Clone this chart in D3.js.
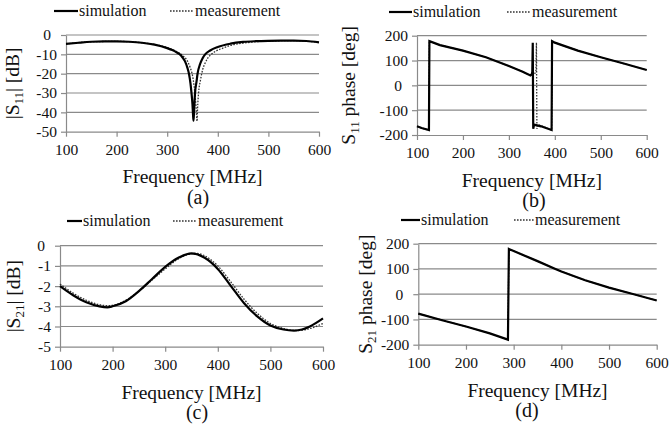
<!DOCTYPE html>
<html>
<head>
<meta charset="utf-8">
<script src="https://cdn.jsdelivr.net/npm/d3@7"></script>
<style>
  body { margin: 0; background: #fff; }
  svg { display: block; font-family: "Liberation Serif", "Times New Roman", serif; }
</style>
</head>
<body>
<svg id="chart" width="669" height="427"></svg>
<script>
// x values are shared: frequency in MHz
const xTicks = [100, 200, 300, 400, 500, 600];

// (a) |S11| [dB]
const s11MagSimF = [100,125,150,175,200,225,250,275,300,310,320,325,330,335,340,343,346,348,350,351,352,353,355,358,360,365,370,375,385,400,425,450,475,500,525,550,575,600];
const s11MagSim  = [-4.6,-4.0,-3.5,-3.3,-3.3,-3.5,-4.0,-5.0,-6.8,-7.8,-9.2,-10,-11.5,-13.5,-17,-20,-25,-30,-36,-41,-44.3,-40,-30,-24,-20,-15,-12,-10,-8,-6.2,-4.5,-3.6,-3.2,-3.0,-2.9,-2.9,-3.1,-3.8];
const s11MagMeasF = [100,150,200,250,300,310,320,330,340,345,350,353,355,357,359,360,362,366,370,375,380,387,395,410,425,450,475,500,550,600];
const s11MagMeas  = [-4.6,-3.5,-3.3,-4.0,-6.5,-7.5,-8.7,-10.5,-13.5,-16.5,-21,-26,-31,-37,-44.6,-38,-30,-23,-18,-14.5,-12,-10,-8.5,-6.8,-5.4,-4.2,-3.5,-3.1,-2.9,-3.8];
const s11MagTicks = [0,-10,-20,-30,-40,-50];

// (b) S11 phase [deg]
const s11PhSimF = [100,110,126,127,150,200,250,300,330,347,350,351,352,353,355,370,393,394,400,450,500,550,600];
const s11PhSim  = [-165,-172,-180,178,162,140,113,78,55,40,45,55,172,-175,-158,-165,-180,178,172,140,113,88,62];
const s11PhMeasF = [100,110,126,127,150,200,250,300,330,347,350,356,359,360,361,363,375,393,394,400,450,500,550,600];
const s11PhMeas  = [-165,-172,-180,178,162,140,113,78,55,40,42,44,60,172,-175,-158,-166,-180,178,172,140,113,88,62];
const phTicks = [200,100,0,-100,-200];

// (c) |S21| [dB]
const s21MagSimF = [100,125,150,175,190,200,225,250,275,300,325,350,375,400,425,450,475,500,525,545,560,575,600];
const s21MagSim  = [-2.0,-2.45,-2.8,-3.0,-3.05,-3.0,-2.75,-2.25,-1.65,-1.05,-0.6,-0.38,-0.6,-1.15,-2.0,-2.85,-3.5,-3.95,-4.15,-4.2,-4.15,-4.0,-3.6];
const s21MagMeasF = [100,125,150,175,190,200,225,250,275,300,325,350,360,375,400,425,450,475,500,525,550,575,600];
const s21MagMeas  = [-1.9,-2.35,-2.7,-2.92,-2.97,-2.95,-2.7,-2.25,-1.7,-1.15,-0.65,-0.4,-0.38,-0.5,-1.0,-1.8,-2.65,-3.35,-3.85,-4.1,-4.2,-4.1,-3.85];
const s21MagTicks = [0,-1,-2,-3,-4,-5];

// (d) S21 phase [deg]
const s21PhSimF = [100,150,200,250,288,290,300,350,390,400,450,500,550,600];
const s21PhSim  = [-77,-103,-128,-155,-180,179,171,131,98,90,55,26,1,-25];
const s21PhMeasF = [100,150,200,250,288,290,300,350,390,400,450,500,550,600];
const s21PhMeas  = [-77,-103,-128,-155,-180,179,171,131,98,90,55,26,1,-25];

const svg = d3.select("#chart");
const gridColor = "#8a8a8a";
const serif = '"Liberation Serif", "Times New Roman", serif';

function zip(xs, ys) { return xs.map((x, i) => [x, ys[i]]); }

function drawPanel(p) {
  const x = d3.scaleLinear().domain([100, 600]).range([p.left, p.right]);
  const y = d3.scaleLinear().domain(p.yDomain).range([p.bottom, p.top]);
  const g = svg.append("g");

  // horizontal gridlines
  g.selectAll("line.grid").data(p.yTicks.filter(v => v !== p.yDomain[0]))
    .enter().append("line")
    .attr("x1", p.left).attr("x2", p.right)
    .attr("y1", d => y(d)).attr("y2", d => y(d))
    .attr("stroke", gridColor).attr("stroke-width", 1.2);

  // axes
  const ax = g.append("g").attr("transform", "translate(0," + p.bottom + ")")
    .call(d3.axisBottom(x).tickValues(xTicks).tickSize(5).tickSizeOuter(0).tickPadding(7));
  const ay = g.append("g").attr("transform", "translate(" + p.left + ",0)")
    .call(d3.axisLeft(y).tickValues(p.yTicks).tickSize(5).tickSizeOuter(0).tickPadding(4));
  [ax, ay].forEach(a => {
    a.attr("font-family", null);
    a.select(".domain").attr("stroke", gridColor).attr("stroke-width", 1.2);
    a.selectAll(".tick line").attr("stroke", gridColor).attr("stroke-width", 1.2);
    a.selectAll(".tick text").attr("fill", "#111").style("font-size", "15.5px")
      .style("font-family", serif);
  });
  ay.selectAll(".tick text").text(d => d === 0 ? "0" : d3.format("d")(d).replace("−", "-"));
  ay.selectAll(".tick text").filter(d => d === 0).attr("dx", -6);

  const line = d3.line().x(d => x(d[0])).y(d => y(d[1])).curve(p.curve);
  g.append("path").datum(zip(p.measF, p.meas)).attr("d", line)
    .attr("fill", "none").attr("stroke", "#333").attr("stroke-width", 1.3)
    .attr("stroke-dasharray", "1.6,1.4");
  g.append("path").datum(zip(p.simF, p.sim)).attr("d", line)
    .attr("fill", "none").attr("stroke", "#000").attr("stroke-width", 2.2);

  // legend
  const L = p.legend;
  g.append("line").attr("x1", L.s0).attr("x2", L.s1).attr("y1", L.y).attr("y2", L.y)
    .attr("stroke", "#000").attr("stroke-width", 2.2);
  g.append("text").attr("x", L.s1 + 1).attr("y", L.y + 5).text("simulation")
    .style("font-size", "16px").attr("fill", "#111");
  g.append("line").attr("x1", L.m0).attr("x2", L.m1).attr("y1", L.y).attr("y2", L.y)
    .attr("stroke", "#333").attr("stroke-width", 1.3).attr("stroke-dasharray", "1.6,1.4");
  g.append("text").attr("x", L.m1 + 1).attr("y", L.y + 5).text("measurement")
    .style("font-size", "16px").attr("fill", "#111");

  // x title and panel letter
  g.append("text").attr("x", (p.left + p.right) / 2).attr("y", p.xTitleY)
    .attr("text-anchor", "middle").style("font-size", "19.5px").attr("fill", "#111")
    .text("Frequency [MHz]");
  g.append("text").attr("x", p.letterX).attr("y", p.letterY)
    .attr("text-anchor", "middle").style("font-size", "20px").attr("fill", "#111")
    .text(p.letter);

  // y title with subscript
  const yt = g.append("text")
    .attr("transform", "translate(" + p.yTitleX + "," + ((p.top + p.bottom) / 2) + ") rotate(-90)")
    .attr("text-anchor", "middle").style("font-size", "19.5px").attr("fill", "#111");
  yt.append("tspan").text(p.yTitle[0]);
  yt.append("tspan").attr("dy", 4).style("font-size", "13px").text(p.yTitle[1]);
  yt.append("tspan").attr("dy", -4).text(p.yTitle[2]);
}

drawPanel({
  left: 66, right: 319, top: 35, bottom: 131.7,
  yDomain: [-50, 0], yTicks: s11MagTicks, curve: d3.curveMonotoneX,
  simF: s11MagSimF, sim: s11MagSim, measF: s11MagMeasF, meas: s11MagMeas,
  legend: { y: 11, s0: 54, s1: 78, m0: 170, m1: 194 },
  xTitleY: 183, letter: "(a)", letterX: 198, letterY: 204,
  yTitleX: 19, yTitle: ["|S", "11", "| [dB]"]
});
drawPanel({
  left: 417, right: 646.7, top: 35.7, bottom: 135,
  yDomain: [-200, 200], yTicks: phTicks, curve: d3.curveLinear,
  simF: s11PhSimF, sim: s11PhSim, measF: s11PhMeasF, meas: s11PhMeas,
  legend: { y: 12, s0: 389, s1: 412, m0: 507, m1: 531 },
  xTitleY: 187, letter: "(b)", letterX: 534, letterY: 207,
  yTitleX: 355, yTitle: ["S", "11", " phase [deg]"]
});
drawPanel({
  left: 60, right: 323, top: 245.7, bottom: 346.7,
  yDomain: [-5, 0], yTicks: s21MagTicks, curve: d3.curveMonotoneX,
  simF: s21MagSimF, sim: s21MagSim, measF: s21MagMeasF, meas: s21MagMeas,
  legend: { y: 221, s0: 67, s1: 82, m0: 173, m1: 197 },
  xTitleY: 399, letter: "(c)", letterX: 197, letterY: 419,
  yTitleX: 20, yTitle: ["|S", "21", "| [dB]"]
});
drawPanel({
  left: 418.3, right: 656.7, top: 243.7, bottom: 344.7,
  yDomain: [-200, 200], yTicks: phTicks, curve: d3.curveLinear,
  simF: s21PhSimF, sim: s21PhSim, measF: s21PhMeasF, meas: s21PhMeas,
  legend: { y: 220, s0: 401, s1: 420, m0: 514, m1: 534 },
  xTitleY: 397, letter: "(d)", letterX: 527, letterY: 417,
  yTitleX: 372, yTitle: ["S", "21", " phase [deg]"]
});
</script>
</body>
</html>
